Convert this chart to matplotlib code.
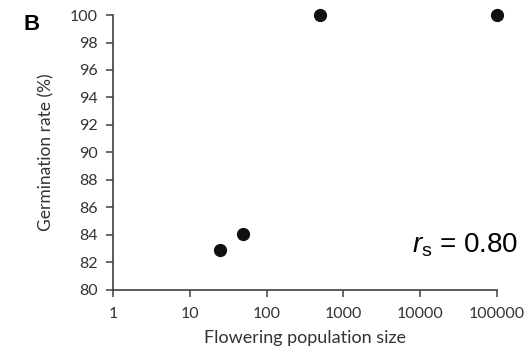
import matplotlib
matplotlib.use("Agg")
import matplotlib.pyplot as plt

plt.rcParams["mathtext.fontset"] = "custom"
plt.rcParams["mathtext.rm"] = "Liberation Sans"
plt.rcParams["mathtext.it"] = "Liberation Sans:italic"

# population size vs germination rate
pop_size = [25, 50, 500, 100000]
germination = [82.9, 84.1, 100.0, 100.0]

x_ticks = [1, 10, 100, 1000, 10000, 100000]
x_labels = ["1", "10", "100", "1000", "10000", "100000"]
y_ticks = list(range(80, 101, 2))

fig = plt.figure(figsize=(5.32, 3.54), dpi=100)
ax = fig.add_axes([0.2124, 0.181, 0.7218, 0.7766])

ax.plot(pop_size, germination, "o", color="#111111", markersize=8.5, clip_on=False)

ax.set_xscale("log")
ax.set_xlim(1, 100000)
ax.set_ylim(80, 100)
ax.set_xticks(x_ticks)
ax.set_xticklabels(x_labels)
ax.minorticks_off()
ax.set_yticks(y_ticks)

for s in ["top", "right"]:
    ax.spines[s].set_visible(False)
for s in ["left", "bottom"]:
    ax.spines[s].set_color("#404040")
    ax.spines[s].set_linewidth(1.2)

ax.tick_params(direction="out", length=5, width=1.1, color="#404040",
               labelsize=11.5, labelcolor="#333333")
ax.tick_params(axis="x", pad=7)
ax.tick_params(axis="y", pad=6)
for lab in ax.get_xticklabels() + ax.get_yticklabels():
    lab.set_family("Lato")

ax.set_xlabel("Flowering population size", fontsize=13, family="Lato",
              color="#333333", labelpad=7)
ax.set_ylabel("Germination rate (%)", fontsize=12.5, family="Lato",
              color="#333333", labelpad=11)

ax.text(1.055, 0.135, r"$r_\mathrm{s}$ = 0.80", transform=ax.transAxes,
        ha="right", va="baseline", fontsize=20, family="Liberation Sans",
        color="black")

fig.text(0.045, 0.915, "B", fontsize=16, fontweight="bold",
         family="Liberation Sans", va="baseline")

fig.savefig("out.png", dpi=100)
